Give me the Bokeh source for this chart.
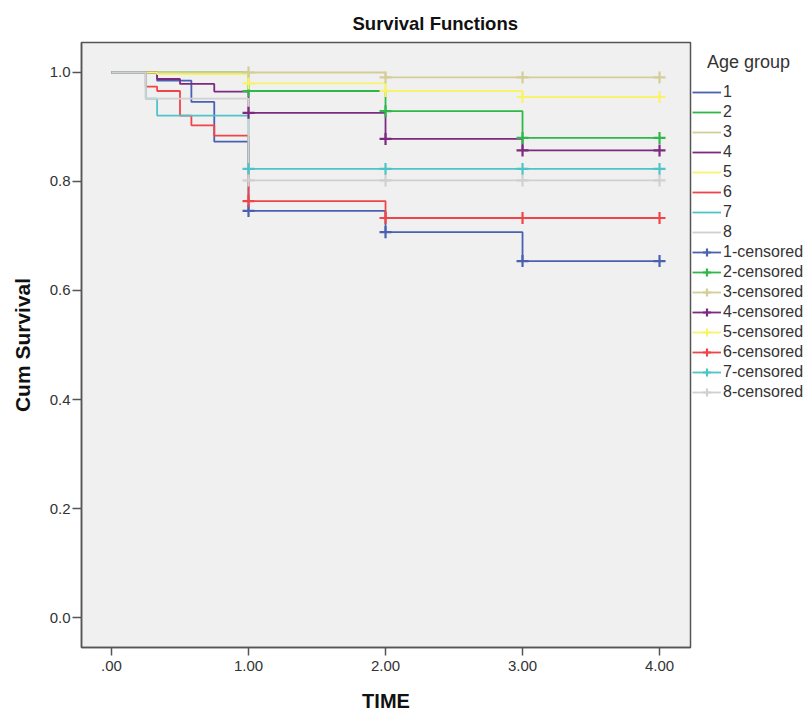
from bokeh.plotting import figure
from bokeh.layouts import row
from bokeh.models import Range1d, FixedTicker, Legend, LegendItem, ColumnDataSource
from bokeh.embed import file_html
from bokeh.resources import INLINE

# ---- data ----
groups = ["1", "2", "3", "4", "5", "6", "7", "8"]
colors = ["#4A60B0", "#2EB84A", "#D3CE97", "#7C2A80", "#F9F36A", "#F04448", "#4EC4C7", "#D0D0D0"]

time_1 = [0, 0.333, 0.583, 0.75, 1, 2, 3, 4]
surv_1 = [1.0, 0.985, 0.946, 0.873, 0.746, 0.707, 0.654, 0.654]
time_2 = [0, 1, 2, 3, 4]
surv_2 = [1.0, 0.966, 0.929, 0.880, 0.880]
time_3 = [0, 2, 4]
surv_3 = [1.0, 0.991, 0.991]
time_4 = [0, 0.333, 0.5, 0.75, 1, 2, 3, 4]
surv_4 = [1.0, 0.988, 0.979, 0.965, 0.926, 0.878, 0.857, 0.857]
time_5 = [0, 0.333, 1, 2, 3, 4]
surv_5 = [1.0, 0.997, 0.980, 0.966, 0.955, 0.955]
time_6 = [0, 0.25, 0.333, 0.5, 0.583, 0.75, 1, 2, 4]
surv_6 = [1.0, 0.974, 0.966, 0.921, 0.903, 0.884, 0.764, 0.733, 0.733]
time_7 = [0, 0.25, 0.333, 1, 4]
surv_7 = [1.0, 0.952, 0.921, 0.823, 0.823]
time_8 = [0, 0.25, 1, 4]
surv_8 = [1.0, 0.952, 0.802, 0.802]

censor_time = [1, 2, 3, 4]
censor_1 = [0.746, 0.707, 0.654, 0.654]
censor_2 = [0.966, 0.929, 0.880, 0.880]
censor_3 = [1.0, 0.991, 0.991, 0.991]
censor_4 = [0.926, 0.878, 0.857, 0.857]
censor_5 = [0.980, 0.966, 0.955, 0.955]
censor_6 = [0.764, 0.733, 0.733, 0.733]
censor_7 = [0.823, 0.823, 0.823, 0.823]
censor_8 = [0.802, 0.802, 0.802, 0.802]

x_ticks = [0, 1, 2, 3, 4]
x_tick_labels = [".00", "1.00", "2.00", "3.00", "4.00"]
y_ticks = [0.0, 0.2, 0.4, 0.6, 0.8, 1.0]
y_tick_labels = ["0.0", "0.2", "0.4", "0.6", "0.8", "1.0"]

step_times = [time_1, time_2, time_3, time_4, time_5, time_6, time_7, time_8]
step_survs = [surv_1, surv_2, surv_3, surv_4, surv_5, surv_6, surv_7, surv_8]
censor_survs = [censor_1, censor_2, censor_3, censor_4, censor_5, censor_6, censor_7, censor_8]

FONT = "Liberation Sans"
STEP_W = 1.8
CROSS_W = 2.2
TOP, BOTTOM = 42, 67

p = figure(width=692, height=714, output_backend="svg", toolbar_location=None,
           x_range=Range1d(-0.219, 4.226), y_range=Range1d(-0.055, 1.055),
           min_border_left=81, min_border_right=2, min_border_top=TOP, min_border_bottom=BOTTOM)

p.background_fill_color = "#F0F0F0"
p.border_fill_color = "white"
p.outline_line_color = "#555555"
p.outline_line_width = 1.5
p.xgrid.visible = False
p.ygrid.visible = False

# title
p.title.text = "Survival Functions"
p.title.align = "left"
p.title.vertical_align = "top"
p.title.offset = 271
p.title.text_font = FONT
p.title.text_font_size = "18.5px"
p.title.text_font_style = "bold"
p.title.text_color = "#111111"
p.title.standoff = 14

# axes
for ax in (p.xaxis[0], p.yaxis[0]):
    ax.axis_line_color = "#555555"
    ax.axis_line_width = 1.5
    ax.major_tick_line_color = "#555555"
    ax.major_tick_line_width = 1.5
    ax.major_tick_in = 0
    ax.minor_tick_line_color = None
    ax.major_label_text_font = FONT
    ax.major_label_text_font_size = "15px"
    ax.major_label_text_color = "#333333"
    ax.axis_label_text_font = FONT
    ax.axis_label_text_font_style = "bold"
    ax.axis_label_text_color = "#111111"

p.xaxis.ticker = FixedTicker(ticks=x_ticks)
p.xaxis.major_label_overrides = {t: l for t, l in zip(x_ticks, x_tick_labels)}
p.xaxis.major_tick_out = 8
p.xaxis.major_label_standoff = 5
p.xaxis.axis_label = "TIME"
p.xaxis.axis_label_text_font_size = "20px"
p.xaxis.axis_label_standoff = 16

p.yaxis.ticker = FixedTicker(ticks=y_ticks)
p.yaxis.major_label_overrides = {t: l for t, l in zip(y_ticks, y_tick_labels)}
p.yaxis.major_tick_out = 9
p.yaxis.major_label_standoff = 2
p.yaxis.axis_label = "Cum Survival"
p.yaxis.axis_label_text_font_size = "21px"
p.yaxis.axis_label_standoff = 13

# ---- legend panel (separate narrow figure to the right of the frame) ----
# its ranges lie outside the data, so only the legend entries are visible there
lg = figure(width=120, height=714, output_backend="svg", toolbar_location=None,
            x_range=Range1d(100, 101), y_range=Range1d(100, 101),
            x_axis_location=None, y_axis_location=None,
            min_border_left=0, min_border_right=0, min_border_top=TOP, min_border_bottom=BOTTOM)
lg.outline_line_color = None
lg.background_fill_color = "white"
lg.border_fill_color = "white"
lg.xgrid.visible = False
lg.ygrid.visible = False

step_items = []
censor_items = []

# step curves
for g, col, tt, ss in zip(groups, colors, step_times, step_survs):
    src = ColumnDataSource(dict(t=tt, s=ss))
    p.step(x="t", y="s", source=src, mode="after", line_color=col, line_width=STEP_W)
    r = lg.step(x="t", y="s", source=src, mode="after", line_color=col, line_width=STEP_W)
    step_items.append(LegendItem(label=g, renderers=[r]))

# censored marks
for g, col, cs in zip(groups, colors, censor_survs):
    src = ColumnDataSource(dict(t=censor_time, s=cs))
    p.scatter(x="t", y="s", source=src, marker="cross", size=12,
              line_color=col, line_width=CROSS_W)
    ln = lg.line(x="t", y="s", source=src, line_color=col, line_width=STEP_W)
    mk = lg.scatter(x="t", y="s", source=src, marker="cross", size=12,
                    line_color=col, line_width=CROSS_W)
    censor_items.append(LegendItem(label=g + "-censored", renderers=[ln, mk]))

legend = Legend(items=step_items + censor_items, location=(0, 245))
legend.title = "\u00a0\u00a0\u00a0Age group"
legend.title_text_font = FONT
legend.title_text_font_size = "18px"
legend.title_text_font_style = "normal"
legend.title_text_color = "#333333"
legend.title_standoff = 9
legend.label_text_font = FONT
legend.label_text_font_size = "16px"
legend.label_text_color = "#333333"
legend.glyph_width = 29
legend.glyph_height = 20
legend.label_height = 20
legend.label_standoff = 2
legend.spacing = 0
legend.padding = 3
legend.margin = 0
legend.border_line_color = None
legend.background_fill_alpha = 0
lg.add_layout(legend, "center")

open("out.html", "w").write(file_html(row(p, lg), INLINE))
